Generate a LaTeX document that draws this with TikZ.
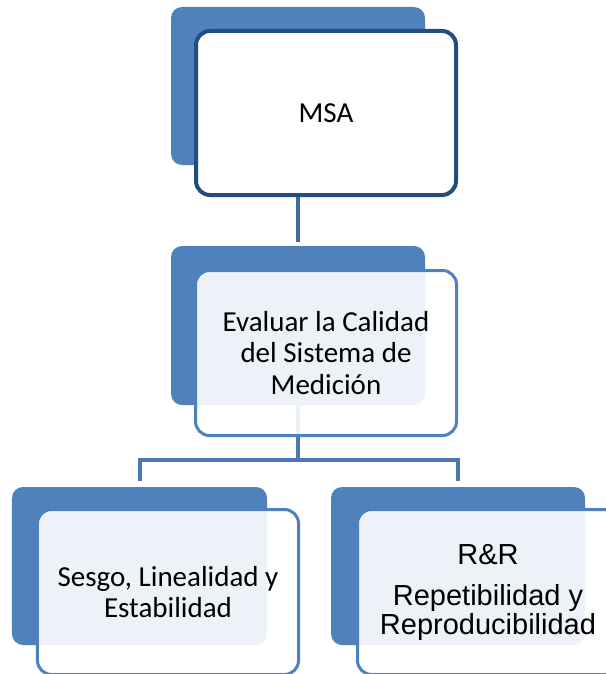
\documentclass[tikz,border=0pt]{standalone}
\usepackage{fontspec}
\setmainfont{Carlito}
\newfontfamily\arialfont{Liberation Sans}
\definecolor{backblue}{HTML}{4F81BD}
\definecolor{darkblue}{HTML}{234D7F}
\definecolor{lineblue}{HTML}{4A78B0}
\definecolor{topline}{HTML}{3F6A9E}
\begin{document}
\begin{tikzpicture}[x=1bp,y=-1bp,
  backbox/.style={rectangle,rounded corners=11bp,fill=backblue,draw=none,
    minimum width=254bp,minimum height=158bp,inner sep=0pt},
  frontbox/.style={rectangle,rounded corners=14bp,draw=backblue,line width=3bp,
    fill=white,fill opacity=0.9,text opacity=1,text=black,
    minimum width=261bp,minimum height=165bp,inner sep=0pt,align=center,
    font=\fontsize{29bp}{31.5bp}\selectfont},
  topbox/.style={frontbox,draw=darkblue,line width=4bp,fill opacity=1,
    minimum width=260bp,minimum height=164bp},
  conn/.style={draw=lineblue,line width=4bp}
]
\useasboundingbox (0,0) rectangle (606,674);
\clip (0,0) rectangle (606,674);
% back boxes
\node[backbox] (b1) at (298,86) {};
\node[backbox,minimum height=159bp] (b2) at (298,325.5) {};
\node[backbox,minimum width=255bp] (b3) at (139.5,566) {};
\node[backbox] (b4) at (458,566) {};
% junction
\coordinate (j) at (298,460);
% connectors
\draw[conn,draw=topline,shorten >=4bp] (b1.south) -- (b2.north);
\draw[conn] (b2.south) -- (j);
\draw[conn,shorten >=6bp] (b2.south |- j) -| (b3.north);
\draw[conn,shorten >=6bp] (b2.south |- j) -| (b4.north);
% front boxes
\node[topbox] (f1) at (326,113) {MSA};
\node[frontbox] (f2) at (326,353) {Evaluar la Calidad\\del Sistema de\\Medición};
\node[frontbox] (f3) at (168,592) {Sesgo, Linealidad y\\Estabilidad};
\node[frontbox,font=\arialfont\fontsize{29bp}{28.5bp}\selectfont] (f4) at (488,592) {R\&R\\[13bp]Repetibilidad y\\Reproducibilidad};
\end{tikzpicture}
\end{document}
